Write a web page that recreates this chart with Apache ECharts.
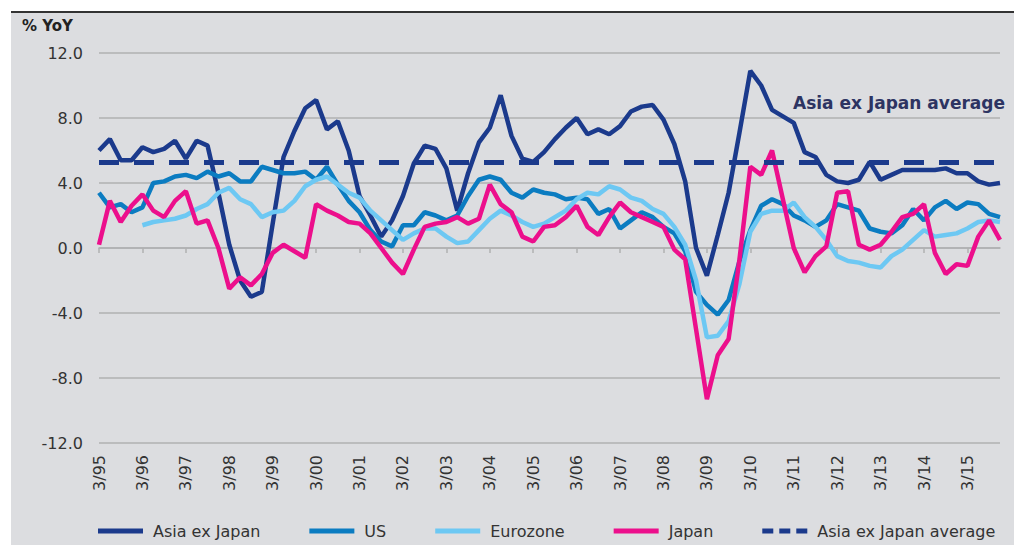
<!DOCTYPE html>
<html>
<head>
<meta charset="utf-8">
<script src="https://cdn.jsdelivr.net/npm/echarts@6/dist/echarts.min.js"></script>
<style>
  body { margin: 0; background: #fff; }
  #chart-container {
    position: absolute;
    left: 11px;
    top: 11px;
    width: 1003px;
    height: 532px;
    border-top: 2px solid #333;
    background: #dcdde0;
  }
</style>
</head>
<body>
<div id="chart-container"></div>
<script>
// quarterly, 3/95 .. 12/15
var quarters = [];
for (var y = 1995; y <= 2015; y++) {
  ['3', '6', '9', '12'].forEach(function (m) {
    quarters.push(m + '/' + String(y).slice(2));
  });
}

var asiaExJapan = [
  6.0, 6.7, 5.4, 5.4, 6.2, 5.9, 6.1, 6.6, 5.5, 6.6, 6.3, 3.4,
  0.2, -2.0, -3.0, -2.7, 1.5, 5.6, 7.2, 8.6, 9.1, 7.3, 7.8, 6.0,
  3.2, 2.0, 0.7, 1.7, 3.2, 5.2, 6.3, 6.1, 4.9, 2.3, 4.6, 6.5,
  7.4, 9.4, 6.9, 5.5, 5.3, 5.9, 6.7, 7.4, 8.0, 7.0, 7.3, 7.0,
  7.5, 8.4, 8.7, 8.8, 7.9, 6.4, 4.1, 0.0, -1.7, 0.8, 3.4, 7.1,
  10.9, 10.0, 8.5, 8.1, 7.7, 5.9, 5.6, 4.5, 4.1, 4.0, 4.2, 5.3,
  4.2, 4.5, 4.8, 4.8, 4.8, 4.8, 4.9, 4.6, 4.6, 4.1, 3.9, 4.0
];

var us = [
  3.4, 2.5, 2.7, 2.2, 2.5, 4.0, 4.1, 4.4, 4.5, 4.3, 4.7, 4.4,
  4.6, 4.1, 4.1, 5.0, 4.8, 4.6, 4.6, 4.7, 4.2, 5.0, 3.9, 2.9,
  2.2, 1.1, 0.4, 0.1, 1.4, 1.4, 2.2, 2.0, 1.7, 2.0, 3.2, 4.2,
  4.4, 4.2, 3.4, 3.1, 3.6, 3.4, 3.3, 3.0, 3.1, 3.0, 2.1, 2.4,
  1.2, 1.7, 2.2, 1.9, 1.3, 0.9, -0.2, -2.7, -3.5, -4.1, -3.2, -0.8,
  1.1, 2.6, 3.0, 2.7, 2.0, 1.7, 1.3, 1.7, 2.7, 2.5, 2.3, 1.2,
  1.0, 0.9, 1.4, 2.4, 1.7, 2.5, 2.9, 2.4, 2.8, 2.7, 2.1, 1.9
];

var eurozone = [
  null, null, null, null, 1.4, 1.6, 1.7, 1.8, 2.0, 2.4, 2.7, 3.4,
  3.7, 3.0, 2.7, 1.9, 2.2, 2.3, 2.9, 3.8, 4.2, 4.4, 3.9, 3.4,
  3.1, 2.3, 1.7, 1.1, 0.5, 0.9, 1.2, 1.2, 0.7, 0.3, 0.4, 1.1,
  1.8, 2.3, 2.0, 1.6, 1.3, 1.5, 1.9, 2.3, 3.0, 3.4, 3.3, 3.8,
  3.6, 3.1, 2.9, 2.4, 2.1, 1.3, 0.2, -2.0, -5.5, -5.4, -4.5, -2.2,
  1.0, 2.1, 2.3, 2.3, 2.8, 1.9, 1.3, 0.5, -0.5, -0.8, -0.9, -1.1,
  -1.2, -0.5, -0.1, 0.5, 1.1, 0.7, 0.8, 0.9, 1.2, 1.6, 1.7, 1.6
];

var japan = [
  0.2, 2.9, 1.6, 2.6, 3.3, 2.3, 1.9, 2.9, 3.5, 1.5, 1.7, 0.0,
  -2.5, -1.8, -2.3, -1.6, -0.3, 0.2, -0.2, -0.6, 2.7, 2.3, 2.0, 1.6,
  1.5, 0.9, 0.0, -0.9, -1.6, -0.1, 1.3, 1.5, 1.6, 1.9, 1.5, 1.8,
  3.9, 2.7, 2.2, 0.7, 0.4, 1.3, 1.4, 1.9, 2.6, 1.3, 0.8, 1.9,
  2.8, 2.2, 1.9, 1.6, 1.3, -0.1, -0.7, -5.0, -9.3, -6.6, -5.6, -0.7,
  5.0, 4.5, 6.0, 3.0, 0.0, -1.5, -0.5, 0.1, 3.4, 3.5, 0.2, -0.1,
  0.2, 1.0, 1.9, 2.1, 2.7, -0.3, -1.6, -1.0, -1.1, 0.7, 1.7, 0.5
];

var asiaAverage = 5.3;

var seriesNames = ['Asia ex Japan', 'US', 'Eurozone', 'Japan', 'Asia ex Japan average'];
var colors = ['#1b3a8c', '#0b7cc1', '#6dc8f3', '#ec0f8c'];
var font = 'DejaVu Sans';

var solidIcon = 'path://M0,0h45v5h-45z';
var dashIcon = 'path://M0,0h11v5h-11z M17,0h11v5h-11z M34,0h11v5h-11z';

// svg renderer: rotated axis labels only come out right with it here
var myChart = echarts.init(document.getElementById('chart-container'), null, { renderer: 'svg' });

function lineSeries(name, data, color) {
  return {
    name: name,
    type: 'line',
    data: data,
    symbol: 'none',
    connectNulls: false,
    lineStyle: { width: 4.5, color: color },
    itemStyle: { color: color }
  };
}

var option = {
  animation: false,
  grid: { left: 88, right: 14, top: 40, bottom: 102 },
  xAxis: [
    {
      // zero line with year ticks
      type: 'category',
      data: quarters,
      boundaryGap: false,
      position: 'top',
      axisLine: { onZero: true, lineStyle: { color: '#b0b0b2', width: 1.5 } },
      axisTick: { interval: 3, inside: true, length: 5, lineStyle: { color: '#b0b0b2', width: 1.5 } },
      axisLabel: { show: false },
      splitLine: { show: false }
    },
    {
      // year labels along the bottom
      type: 'category',
      data: quarters,
      boundaryGap: false,
      position: 'bottom',
      axisLine: { show: false, onZero: false },
      axisTick: { show: false },
      axisLabel: {
        interval: 3,
        rotate: 90,
        margin: 12,
        color: '#333',
        fontFamily: font,
        fontSize: 16
      },
      splitLine: { show: false }
    }
  ],
  yAxis: {
    type: 'value',
    min: -12,
    max: 12,
    interval: 4,
    axisLine: { show: false },
    axisTick: { show: false },
    axisLabel: {
      margin: 16,
      color: '#333',
      fontFamily: font,
      fontSize: 16,
      formatter: function (v) { return v.toFixed(1); }
    },
    splitLine: { lineStyle: { color: '#b0b0b2', width: 1.5 } }
  },
  legend: {
    data: [
      { name: seriesNames[0], icon: solidIcon },
      { name: seriesNames[1], icon: solidIcon },
      { name: seriesNames[2], icon: solidIcon },
      { name: seriesNames[3], icon: solidIcon },
      { name: seriesNames[4], icon: dashIcon }
    ],
    left: 82,
    top: 505,
    itemWidth: 45,
    itemHeight: 5,
    itemGap: 49,
    textStyle: { color: '#333', fontFamily: font, fontSize: 16, padding: [0, 0, 0, 5] }
  },
  graphic: [
    {
      type: 'text',
      left: 11,
      top: 5,
      style: { text: '% YoY', fill: '#222', font: 'bold 15px "DejaVu Sans"' }
    },
    {
      type: 'text',
      left: 782,
      top: 81,
      style: { text: 'Asia ex Japan average', fill: '#2d3462', font: 'bold 17px "DejaVu Sans"' }
    }
  ],
  series: [
    lineSeries(seriesNames[0], asiaExJapan, colors[0]),
    lineSeries(seriesNames[1], us, colors[1]),
    lineSeries(seriesNames[2], eurozone, colors[2]),
    lineSeries(seriesNames[3], japan, colors[3]),
    {
      name: seriesNames[4],
      type: 'line',
      data: [],
      symbol: 'none',
      lineStyle: { width: 5, color: colors[0] },
      itemStyle: { color: colors[0] },
      markLine: {
        silent: true,
        symbol: 'none',
        label: { show: false },
        lineStyle: { width: 5, color: colors[0], type: [20, 15] },
        data: [{ yAxis: asiaAverage }]
      }
    }
  ]
};

myChart.setOption(option);
</script>
</body>
</html>
